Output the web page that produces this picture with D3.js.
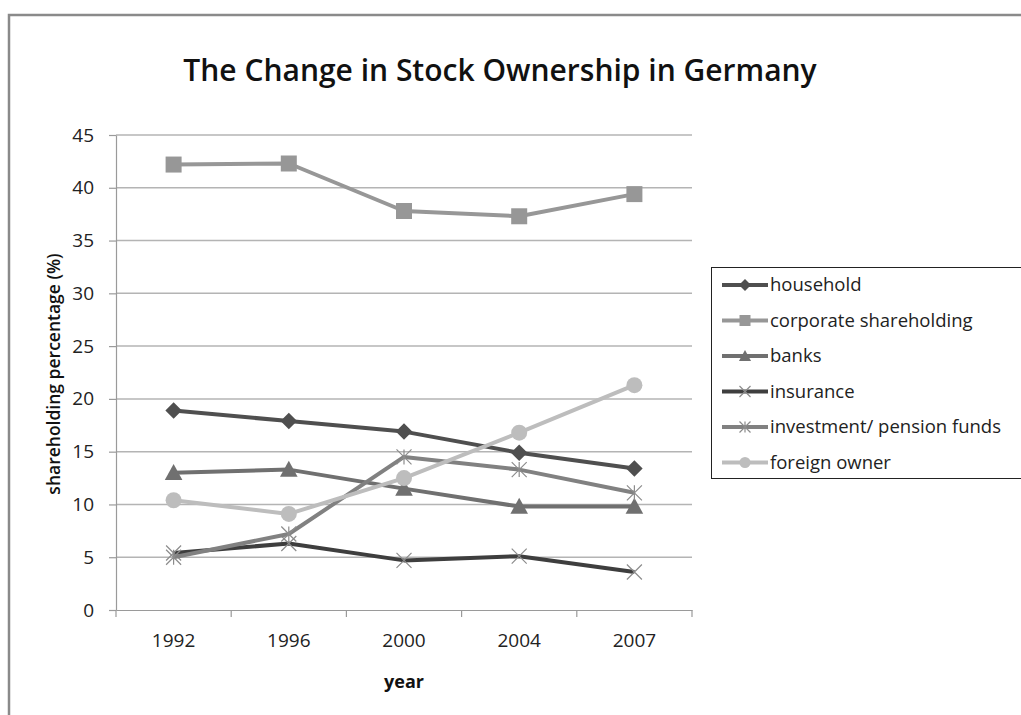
<!DOCTYPE html>
<html>
<head>
<meta charset="utf-8">
<script src="https://cdn.jsdelivr.net/npm/d3@7"></script>
<style>
  body { margin: 0; background: #fff; }
  svg { display: block; font-family: "Open Sans", sans-serif; }
</style>
</head>
<body>
<div id="chart"></div>
<script>
// data
const years = ["1992", "1996", "2000", "2004", "2007"];
const household = [18.9, 17.9, 16.9, 14.9, 13.4];
const corporate = [42.2, 42.3, 37.8, 37.3, 39.4];
const banks = [13.0, 13.3, 11.5, 9.8, 9.8];
const insurance = [5.4, 6.3, 4.7, 5.1, 3.6];
const investment = [5.0, 7.2, 14.5, 13.3, 11.1];
const foreign = [10.4, 9.1, 12.5, 16.8, 21.3];
const yTicks = [0, 5, 10, 15, 20, 25, 30, 35, 40, 45];

const series = [
    { name: "household", values: household, color: "#4f4f4f", marker: "diamond" },
    { name: "corporate shareholding", values: corporate, color: "#979797", marker: "square" },
    { name: "banks", values: banks, color: "#707070", marker: "triangle" },
    { name: "insurance", values: insurance, color: "#3e3e3e", marker: "cross" },
    { name: "investment/ pension funds", values: investment, color: "#818181", marker: "star" },
    { name: "foreign owner", values: foreign, color: "#bdbdbd", marker: "circle" }
];

const W = 1021, H = 715;
const plot = { left: 116, right: 692, top: 135, bottom: 610 };

const svg = d3.select("#chart").append("svg")
    .attr("width", W)
    .attr("height", H);

svg.append("rect").attr("width", W).attr("height", H).attr("fill", "#fff");

// outer frame (only top and left edges are visible)
svg.append("path")
    .attr("d", `M9,${H} L9,15 L${W},15`)
    .attr("fill", "none")
    .attr("stroke", "#8a8a8a")
    .attr("stroke-width", 2.5);

const x = d3.scaleBand().domain(years).range([plot.left, plot.right]);
const y = d3.scaleLinear().domain([0, 45]).range([plot.bottom, plot.top]);

// gridlines
svg.append("g")
    .selectAll("line")
    .data(yTicks.filter(d => d > 0))
    .join("line")
    .attr("x1", plot.left).attr("x2", plot.right)
    .attr("y1", d => y(d)).attr("y2", d => y(d))
    .attr("stroke", "#b4b4b4")
    .attr("stroke-width", 1.5);

// y axis
const yAxis = svg.append("g")
    .attr("transform", `translate(${plot.left},0)`)
    .call(d3.axisLeft(y).tickValues(yTicks).tickSize(7).tickSizeOuter(0).tickPadding(15));
yAxis.attr("font-family", null).attr("font-size", null);
yAxis.select(".domain").attr("stroke", "#9a9a9a").attr("stroke-width", 1.2);
yAxis.selectAll(".tick line").attr("stroke", "#9a9a9a").attr("stroke-width", 1.2);
yAxis.selectAll("text").attr("fill", "#222").style("font-size", "19px");

// x axis: labels at band centres, ticks at band edges
const xAxis = svg.append("g")
    .attr("transform", `translate(0,${plot.bottom})`)
    .call(d3.axisBottom(x).tickSize(0).tickPadding(24));
xAxis.attr("font-family", null).attr("font-size", null);
xAxis.select(".domain").attr("stroke", "#9a9a9a").attr("stroke-width", 1.2);
xAxis.selectAll("text").attr("fill", "#222").style("font-size", "19px");
xAxis.selectAll(".edge")
    .data(years.map(d => x(d)).concat([x.range()[1]]))
    .join("line")
    .attr("class", "edge")
    .attr("x1", d => d).attr("x2", d => d)
    .attr("y1", 0).attr("y2", 7)
    .attr("stroke", "#9a9a9a")
    .attr("stroke-width", 1.2);

// titles
svg.append("text")
    .attr("x", 500).attr("y", 81)
    .attr("text-anchor", "middle")
    .style("font-size", "30px")
    .style("font-weight", "600")
    .attr("fill", "#111")
    .text("The Change in Stock Ownership in Germany");

svg.append("text")
    .attr("x", (plot.left + plot.right) / 2).attr("y", 688)
    .attr("text-anchor", "middle")
    .style("font-size", "18px")
    .style("font-weight", "700")
    .attr("fill", "#111")
    .text("year");

svg.append("text")
    .attr("transform", `translate(60,374) rotate(-90)`)
    .attr("text-anchor", "middle")
    .style("font-size", "17.5px")
    .style("font-weight", "600")
    .attr("fill", "#111")
    .text("shareholding percentage (%)");

// marker drawing
function drawMarker(g, type, cx, cy, color, s) {
    if (type === "diamond") {
        g.append("path")
            .attr("d", `M${cx},${cy - s * 0.55} L${cx + s * 0.55},${cy} L${cx},${cy + s * 0.55} L${cx - s * 0.55},${cy} Z`)
            .attr("fill", color);
    } else if (type === "square") {
        g.append("rect")
            .attr("x", cx - s / 2).attr("y", cy - s / 2)
            .attr("width", s).attr("height", s)
            .attr("fill", color);
    } else if (type === "triangle") {
        g.append("path")
            .attr("d", `M${cx},${cy - s * 0.55} L${cx + s * 0.55},${cy + s * 0.45} L${cx - s * 0.55},${cy + s * 0.45} Z`)
            .attr("fill", color);
    } else if (type === "circle") {
        g.append("circle")
            .attr("cx", cx).attr("cy", cy).attr("r", s / 2)
            .attr("fill", color);
    } else if (type === "cross" || type === "star") {
        const r = s / 2;
        let d = `M${cx - r},${cy - r} L${cx + r},${cy + r} M${cx - r},${cy + r} L${cx + r},${cy - r}`;
        if (type === "star") d += ` M${cx},${cy - r} L${cx},${cy + r}`;
        g.append("path")
            .attr("d", d)
            .attr("stroke", "#8c8c8c")
            .attr("stroke-width", 1.2)
            .attr("fill", "none");
    }
}

const line = d3.line()
    .x((d, i) => x(years[i]) + x.bandwidth() / 2)
    .y(d => y(d));

const markerSize = { diamond: 15, square: 16, triangle: 16, circle: 16, cross: 15, star: 15 };

series.forEach(s => {
    const g = svg.append("g");
    g.append("path")
        .datum(s.values)
        .attr("d", line)
        .attr("fill", "none")
        .attr("stroke", s.color)
        .attr("stroke-width", 4)
        .attr("stroke-linejoin", "round");
    s.values.forEach((v, i) => {
        drawMarker(g, s.marker, x(years[i]) + x.bandwidth() / 2, y(v), s.color, markerSize[s.marker]);
    });
});

// legend
const legend = svg.append("g");
legend.append("rect")
    .attr("x", 711.5).attr("y", 267.5)
    .attr("width", 330).attr("height", 211)
    .attr("fill", "#fff")
    .attr("stroke", "#222")
    .attr("stroke-width", 1);

series.forEach((s, i) => {
    const cy = 285 + i * 35.5;
    const g = legend.append("g");
    g.append("line")
        .attr("x1", 722).attr("x2", 768)
        .attr("y1", cy).attr("y2", cy)
        .attr("stroke", s.color)
        .attr("stroke-width", 4);
    drawMarker(g, s.marker, 745, cy, s.color, 11);
    g.append("text")
        .attr("x", 770).attr("y", cy)
        .attr("dy", "0.35em")
        .style("font-size", "18.5px")
        .attr("fill", "#222")
        .text(s.name);
});
</script>
</body>
</html>
